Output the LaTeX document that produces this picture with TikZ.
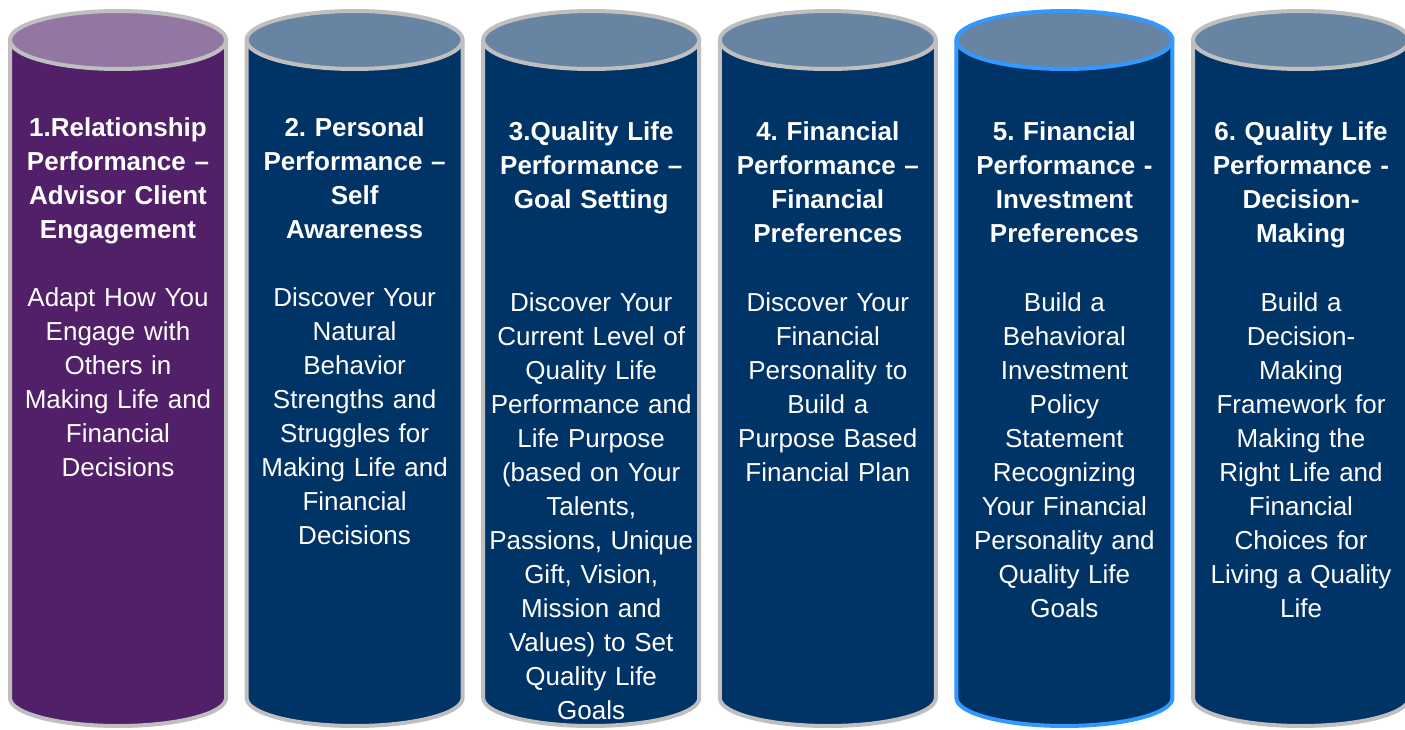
\documentclass[tikz,border=0pt]{standalone}
\usepackage{fontspec}
\setmainfont{Liberation Sans}
\frenchspacing
\definecolor{purpbody}{RGB}{82,31,105}
\definecolor{purptop}{RGB}{147,119,163}
\definecolor{navybody}{RGB}{0,51,102}
\definecolor{navytop}{RGB}{103,133,162}
\definecolor{rimgray}{RGB}{191,191,191}
\definecolor{rimblue}{RGB}{51,153,255}
\tikzset{
  headtext/.style={text=white, font=\fontsize{26}{34}\selectfont\bfseries, align=center, text width=232pt, inner sep=0pt, anchor=base},
  bodytext/.style={text=white, font=\fontsize{26}{34}\selectfont, align=center, text width=232pt, inner sep=0pt, anchor=base},
}
% #1 center x, #2 body colour, #3 top colour, #4 rim colour
\newcommand{\cylshape}[4]{%
  \filldraw[fill=#2, draw=#4, line width=4pt, line join=round]
    (#1-108,689) -- (#1-108,31)
    arc[start angle=180, end angle=360, x radius=108, y radius=28]
    -- (#1+108,689) -- cycle;
  \filldraw[fill=#3, draw=#4, line width=4pt]
    (#1,689) ellipse[x radius=108, y radius=29];
}
\begin{document}
\begin{tikzpicture}[x=1pt,y=1pt]
\useasboundingbox (0,0) rectangle (1405,729);
\cylshape{118}{purpbody}{purptop}{rimgray}
\cylshape{354.6}{navybody}{navytop}{rimgray}
\cylshape{591.2}{navybody}{navytop}{rimgray}
\cylshape{827.8}{navybody}{navytop}{rimgray}
\cylshape{1064.4}{navybody}{navytop}{rimblue}
\cylshape{1301}{navybody}{navytop}{rimgray}

\node[headtext] (h1) at (118,592) {1.Relationship\\Performance –\\Advisor Client\\Engagement};
\node[bodytext] (b1) at (118,422) {Adapt How You\\Engage with\\Others in\\Making Life and\\Financial\\Decisions};

\node[headtext] (h2) at (354.6,592) {2. Personal\\Performance –\\Self\\Awareness};
\node[bodytext] (b2) at (354.6,422) {Discover Your\\Natural\\Behavior\\Strengths and\\Struggles for\\Making Life and\\Financial\\Decisions};

\node[headtext] (h3) at (591.2,588) {3.Quality Life\\Performance –\\Goal Setting};
\node[bodytext] (b3) at (591.2,417) {Discover Your\\Current Level of\\Quality Life\\Performance and\\Life Purpose\\(based on Your\\Talents,\\Passions, Unique\\Gift, Vision,\\Mission and\\Values) to Set\\Quality Life\\Goals};

\node[headtext] (h4) at (827.8,588) {4. Financial\\Performance –\\Financial\\Preferences};
\node[bodytext] (b4) at (827.8,417) {Discover Your\\Financial\\Personality to\\Build a\\Purpose Based\\Financial Plan};

\node[headtext] (h5) at (1064.4,588) {5. Financial\\Performance -\\Investment\\Preferences};
\node[bodytext] (b5) at (1064.4,417) {Build a\\Behavioral\\Investment\\Policy\\Statement\\Recognizing\\Your Financial\\Personality and\\Quality Life\\Goals};

\node[headtext] (h6) at (1301,588) {6. Quality Life\\Performance -\\Decision-\\Making};
\node[bodytext] (b6) at (1301,417) {Build a\\Decision-\\Making\\Framework for\\Making the\\Right Life and\\Financial\\Choices for\\Living a Quality\\Life};
\end{tikzpicture}
\end{document}
